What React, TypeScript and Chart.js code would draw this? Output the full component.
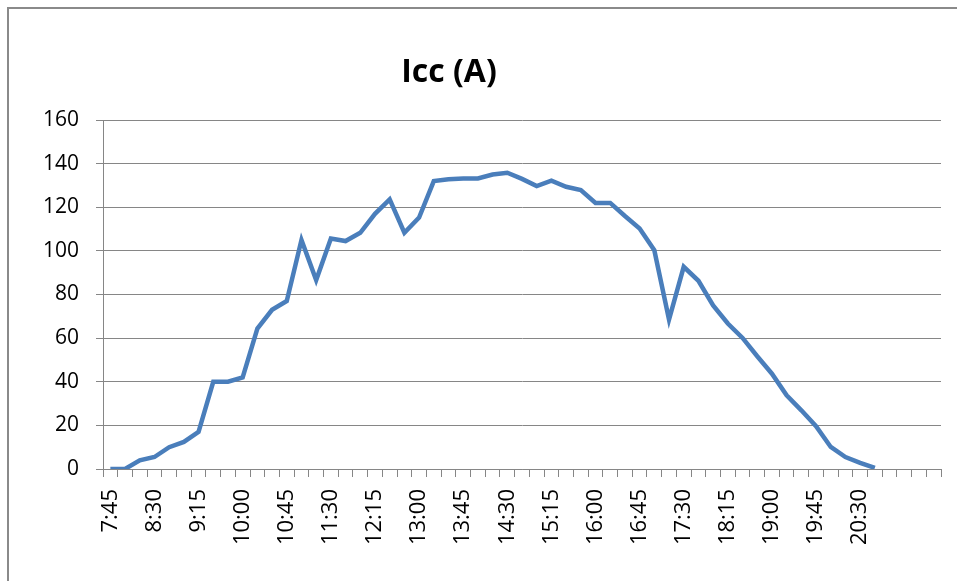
import React, { useEffect, useRef } from "react";
import { Chart, registerables } from "chart.js";

Chart.register(...registerables);

const titleText = "Icc (A)";

const timeLabels: string[] = [
  "7:45", "8:00", "8:15", "8:30", "8:45", "9:00", "9:15", "9:30", "9:45",
  "10:00", "10:15", "10:30", "10:45", "11:00", "11:15", "11:30", "11:45",
  "12:00", "12:15", "12:30", "12:45", "13:00", "13:15", "13:30", "13:45",
  "14:00", "14:15", "14:30", "14:45", "15:00", "15:15", "15:30", "15:45",
  "16:00", "16:15", "16:30", "16:45", "17:00", "17:15", "17:30", "17:45",
  "18:00", "18:15", "18:30", "18:45", "19:00", "19:15", "19:30", "19:45",
  "20:00", "20:15", "20:30", "20:45", "", "", "", "",
];

const iccValues: (number | null)[] = [
  0, 0, 4, 5.5, 10, 12.4, 17, 40, 40, 42, 64.4, 73, 77, 105, 86.6, 105.7,
  104.5, 108.3, 117, 123.6, 108.3, 115.3, 132, 132.8, 133.2, 133.2, 135,
  135.8, 133, 129.7, 132.2, 129.4, 127.9, 122, 122, 116, 110.3, 100.3, 68.5,
  92.7, 86.3, 75, 66.7, 60.1, 51.7, 43.7, 33.8, 26.9, 19.6, 10.1, 5.5, 2.8,
  0.5, null, null, null, null,
];

const yMin = 0;
const yMax = 160;
const yStep = 20;
const labelEvery = 3;

const FONT = "'Open Sans', 'Noto Sans', sans-serif";
const GRID = "#868686";

export default function App() {
  const canvasRef = useRef<HTMLCanvasElement | null>(null);

  useEffect(() => {
    document.body.style.margin = "0";
    const canvas = canvasRef.current;
    if (!canvas) return;

    const titlePlugin = {
      id: "customTitle",
      afterDraw(chart: any) {
        const ctx = chart.ctx;
        ctx.save();
        ctx.font = `bold 32px ${FONT}`;
        ctx.fillStyle = "#000";
        ctx.textAlign = "center";
        ctx.textBaseline = "alphabetic";
        ctx.fillText(titleText, 449, 82);
        ctx.restore();
      },
    };

    const chart = new Chart(canvas, {
      type: "line",
      data: {
        labels: timeLabels,
        datasets: [
          {
            label: titleText,
            data: iccValues,
            borderColor: "#4A7EBB",
            backgroundColor: "#4A7EBB",
            borderWidth: 4.5,
            pointRadius: 0,
            tension: 0,
            spanGaps: false,
          },
        ],
      },
      options: {
        animation: false,
        responsive: false,
        maintainAspectRatio: false,
        layout: { padding: { left: 0, top: 120, right: 16, bottom: 0 } },
        plugins: {
          legend: { display: false },
          title: { display: false },
          tooltip: { enabled: false },
        },
        scales: {
          x: {
            type: "category",
            offset: true,
            grid: {
              offset: true,
              drawOnChartArea: false,
              drawTicks: true,
              tickLength: 8,
              color: GRID,
              lineWidth: 1,
            },
            border: { display: true, color: GRID, width: 1 },
            ticks: {
              autoSkip: false,
              maxRotation: 90,
              minRotation: 90,
              padding: 12,
              color: "#000",
              font: { family: FONT, size: 22 },
              callback: (_v: any, i: number) =>
                i % labelEvery === 0 ? timeLabels[i] : "",
            },
            afterFit: (s: any) => {
              s.height = 112;
              s.paddingLeft = 0;
              s.paddingRight = 0;
            },
          },
          y: {
            min: yMin,
            max: yMax,
            grid: {
              color: GRID,
              lineWidth: 1,
              drawTicks: true,
              tickLength: 7,
            },
            border: { display: true, color: GRID, width: 1 },
            ticks: {
              stepSize: yStep,
              padding: 17,
              color: "#000",
              font: { family: FONT, size: 21 },
            },
            afterFit: (s: any) => {
              s.width = 103;
              s.paddingTop = 0;
              s.paddingBottom = 0;
            },
          },
        },
      },
      plugins: [titlePlugin],
    });

    return () => chart.destroy();
  }, []);

  return (
    <div
      style={{
        position: "relative",
        width: 957,
        height: 581,
        background: "#fff",
        overflow: "hidden",
      }}
    >
      <canvas
        ref={canvasRef}
        width={957}
        height={581}
        style={{ position: "absolute", left: 0, top: 0, width: 957, height: 581 }}
      />
      <div
        style={{
          position: "absolute",
          left: 7,
          top: 7,
          width: 960,
          height: 580,
          borderTop: "2px solid #8a8a8a",
          borderLeft: "2px solid #8a8a8a",
          pointerEvents: "none",
        }}
      />
    </div>
  );
}
